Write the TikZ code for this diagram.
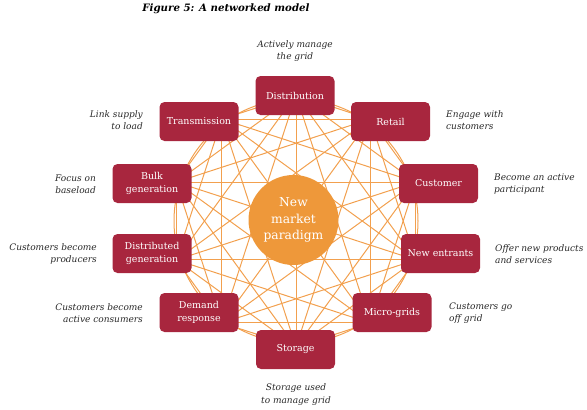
\documentclass[tikz,border=0pt]{standalone}
\usepackage{fontspec}
\setmainfont{DejaVu Serif}
\definecolor{boxred}{RGB}{168,38,62}
\definecolor{hubc}{RGB}{238,152,58}
\definecolor{wirec}{RGB}{242,160,78}
\definecolor{notec}{RGB}{40,40,40}
\begin{document}
\begin{tikzpicture}[x=1pt,y=-1pt,
  wire/.style={draw=wirec, line width=1pt},
  box/.style={rectangle, rounded corners=5pt, fill=boxred, text=white,
    minimum width=79pt, minimum height=39pt, inner sep=1pt, align=center,
    font=\fontsize{9.5}{12.7}\selectfont},
  hub/.style={circle, fill=hubc, text=white, minimum size=90pt, inner sep=0pt,
    align=center, font=\fontsize{12.3}{16.5}\selectfont},
  note/.style={inner sep=0pt, text=notec, font=\fontsize{9}{12.3}\selectfont\itshape},
  notel/.style={note, anchor=west, align=left},
  noter/.style={note, anchor=east, align=right},
  notec/.style={note, anchor=center, align=center},
  title/.style={inner sep=0pt, text=black, font=\fontsize{10.2}{12}\selectfont\bfseries\itshape}
]
\useasboundingbox (0,0) rectangle (587,410);
% anchor points of the network
\coordinate (c) at (296,221);
\coordinate (p0) at (296,95);
\coordinate (p1) at (370.1,119.1);
\coordinate (p2) at (415.8,182.1);
\coordinate (p3) at (415.8,259.9);
\coordinate (p4) at (370.1,322.9);
\coordinate (p5) at (296,347);
\coordinate (p6) at (221.9,322.9);
\coordinate (p7) at (176.2,259.9);
\coordinate (p8) at (176.2,182.1);
\coordinate (p9) at (221.9,119.1);
\draw[wire] (c) circle[radius=122];
\foreach \i in {0,...,8}{
  \pgfmathtruncatemacro\s{\i+1}
  \foreach \j in {\s,...,9}{\draw[wire] (p\i) -- (p\j);}
}
% hub
\node[hub] (hub) at (293.5,220) {New\\market\\paradigm};
% boxes
\node[box] (dist) at (295,95.5) {Distribution};
\node[box] (retail) at (390.5,121.5) {Retail};
\node[box] (cust) at (438.5,183.5) {Customer};
\node[box] (newe) at (440.5,253.5) {New entrants};
\node[box] (micro) at (392,312.5) {Micro-grids};
\node[box] (stor) at (295.5,349.5) {Storage};
\node[box] (dem) at (199,312.5) {Demand\\response};
\node[box] (dgen) at (152,253.5) {Distributed\\generation};
\node[box] (bulk) at (152,183.5) {Bulk\\generation};
\node[box] (trans) at (199,121.5) {Transmission};
% notes
\node[title] (ttl) at (226,9) {Figure 5: A networked model};
\node[notec] (n0) at (295,51) {Actively manage\\the grid};
\node[notel] (n1) at (446,120) {Engage with\\customers};
\node[notel] (n2) at (494,184) {Become an active\\participant};
\node[notel] (n3) at (495,254) {Offer new products\\and services};
\node[notel] (n4) at (449,313) {Customers go\\off grid};
\node[notec] (n5) at (296,394.5) {Storage used\\to manage grid};
\node[noter] (n6) at (143,313) {Customers become\\active consumers};
\node[noter] (n7) at (97,254) {Customers become\\producers};
\node[noter] (n8) at (96,184) {Focus on\\baseload};
\node[noter] (n9) at (143,120) {Link supply\\to load};
\end{tikzpicture}
\end{document}
